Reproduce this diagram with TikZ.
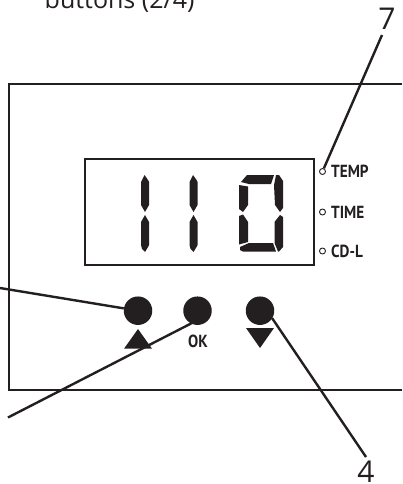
\documentclass[tikz,border=0pt]{standalone}
\usepackage{fontspec}
\usepackage{graphicx}
\setmainfont{Open Sans}
\newfontfamily\panelfont{PT Sans}
\definecolor{ink}{RGB}{35,31,32}
\newcommand{\paneltype}[1]{\scalebox{0.87}[1]{\panelfont\bfseries\fontsize{17.5}{18}\selectfont #1}}
\tikzset{
  panel/.style={draw=ink,line width=2pt},
  leader/.style={draw=ink,line width=2.4pt,line cap=butt},
  btn/.style={circle,fill=ink,draw=none,minimum size=28.5pt,inner sep=0pt},
  ring/.style={circle,draw=ink,line width=0.9pt,fill=white,minimum size=6pt,inner sep=0pt},
  paneltext/.style={text=ink,anchor=west,inner sep=0pt},
  callout/.style={font=\fontsize{30}{32}\selectfont,text=ink,inner sep=0pt},
  seg/.style={fill=ink,draw=none}
}
\begin{document}
\begin{tikzpicture}[x=1pt,y=-1pt]
\useasboundingbox (0,0) rectangle (402,484);
\clip (0,0) rectangle (402,484);
% panel
\draw[panel] (402,84.5) -- (8.5,84.5) -- (8.5,389.5) -- (402,389.5);
\node[panel,minimum width=229pt,minimum height=106pt,inner sep=0pt] (display) at (199.5,212) {};
% digit 1
\foreach \dx in {0,48.5}{
  \begin{scope}[xshift=\dx pt]
  \fill[seg] (144.5,175) -- (148,180) -- (149,182) -- (149,205) -- (145,212) -- (141,205) -- (141,182) -- (142,180) -- cycle;
  \fill[seg] (145,215) -- (149,222) -- (149,245) -- (148,247) -- (145,252) -- (142,249) -- (141,245) -- (141,222) -- cycle;
  \end{scope}
}
% digit 0
\fill[seg] (241,182) -- (247,175) -- (274,175) -- (271,184) -- (249,184) -- cycle;
\fill[seg] (239,185) -- (248,186.5) -- (248,205) -- (243,212) -- (239,209) -- cycle;
\fill[seg] (239,216) -- (243,214.5) -- (248,222) -- (248,242) -- (239,244.5) -- cycle;
\fill[seg] (240,247) -- (249,243) -- (273,243) -- (276,251.5) -- (243,251.5) -- (240,250) -- cycle;
\fill[seg] (276,175) -- (279,175) -- (283,181) -- (283,208) -- (280,212) -- (275,205) -- (274,185) -- cycle;
\fill[seg] (280,215) -- (283,217) -- (283,247) -- (279,251.5) -- (278,251.5) -- (274.5,243) -- (274.5,222) -- cycle;
% indicators
\node[ring] (r1) at (322.5,171.5) {};
\node[ring] (r2) at (322.5,212) {};
\node[ring] (r3) at (322.5,251) {};
\node[paneltext] (t1) at (331,171.5) {\paneltype{TEMP}};
\node[paneltext] (t2) at (331,212) {\paneltype{TIME}};
\node[paneltext] (t3) at (331,251.5) {\paneltype{CD-L}};
% buttons
\node[btn] (b1) at (138,310.7) {};
\node[btn] (b2) at (197.5,310.7) {};
\node[btn] (b3) at (260,310.7) {};
\fill[ink] (138,329) -- (152,348.7) -- (124,348.7) -- cycle;
\fill[ink] (246,328) -- (274,328) -- (260,348) -- cycle;
\node[text=ink,inner sep=0pt] (ok) at (198,341.5) {\paneltype{OK}};
% free ends
\coordinate (e1) at (0,288);
\coordinate (e2) at (8,417.5);
\node[callout] (n4) at (366,472) {4};
\node[callout] (n7) at (387,18.5) {7};
\node[font=\fontsize{25}{27}\selectfont,text=ink,inner sep=0pt,anchor=base west] (title) at (44.5,9) {buttons (2/4)};
% leaders
\draw[leader] (e1) -- (b1);
\draw[leader] (e2) -- (192,323);
\draw[leader] (272,318) -- (366,457);
\draw[leader] (382,35) -- (r1);
\end{tikzpicture}
\end{document}
